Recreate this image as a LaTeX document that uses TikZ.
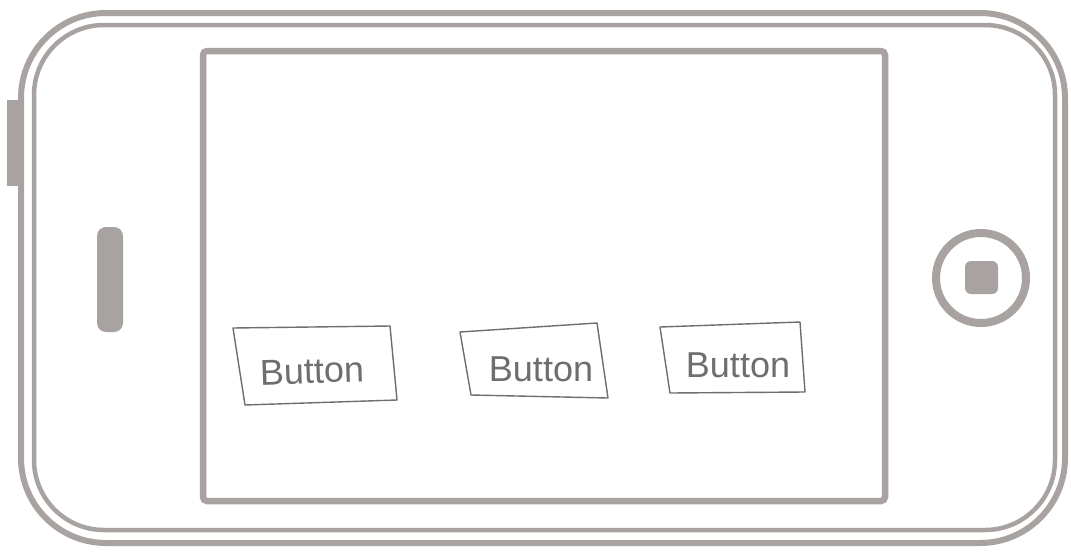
\documentclass[tikz,border=0pt]{standalone}
\usepackage{fontspec}
\usepackage{xcolor}
\usepackage{tikz}
\newfontfamily\sketchfont{Liberation Sans}
\definecolor{phonegrey}{RGB}{168, 163, 160}
\definecolor{pencilgrey}{RGB}{112, 110, 108}

\begin{document}
\begin{tikzpicture}[x=1pt, y=-1pt,
  shell/.style={draw=phonegrey, line width=6pt},
  rim/.style={draw=phonegrey, line width=4.5pt},
  pencil/.style={draw=pencilgrey, line width=1.4pt, line join=round},
  sketchtext/.style={font=\sketchfont\fontsize{36}{40}\selectfont, text=pencilgrey, inner sep=0pt}]

  \useasboundingbox (0,0) rectangle (1071,552);

  % phone body
  \draw [shell, fill=phonegrey] (10,103) rectangle (20,183);
  \draw [shell, fill=white, rounded corners=85pt] (21,13) rectangle (1065,543);
  \draw [rim, rounded corners=70pt] (34,25) rectangle (1055,530);

  % screen
  \draw [shell, line width=6.5pt, rounded corners=4pt] (203,51) rectangle (885,501);

  % speaker and home button
  \fill [phonegrey, rounded corners=9pt] (97,227) rectangle (123,332);
  \draw [shell, line width=8pt] (981,278) circle (45);
  \fill [phonegrey, rounded corners=6pt] (965,261) rectangle (998,294);

  % sketched buttons
  \draw [pencil] (233,328) -- (390,326) -- (397,400) -- (245,405) -- cycle;
  \draw [pencil] (460,332) -- (597,323) -- (608,398) -- (471,395) -- cycle;
  \draw [pencil] (660,327) -- (800,322) -- (805,392) -- (670,393) -- cycle;

  \node [sketchtext, rotate=2] (btnone) at (312,371) {Button};
  \node [sketchtext] (btntwo) at (541,369) {Button};
  \node [sketchtext] (btnthree) at (738,365) {Button};

\end{tikzpicture}
\end{document}
